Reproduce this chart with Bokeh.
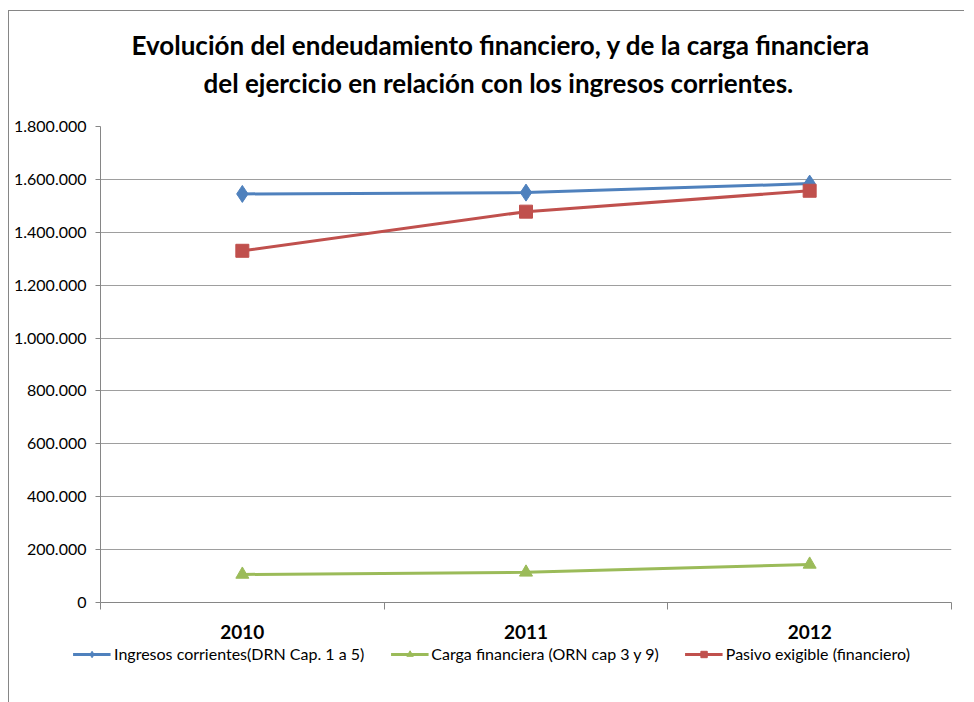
from bokeh.plotting import figure
from bokeh.layouts import column
from bokeh.models import (Range1d, FixedTicker, SingleIntervalTicker, CustomJSTickFormatter,
                          LinearAxis, Title, Legend, LegendItem, ColumnDataSource)
from bokeh.embed import file_html
from bokeh.resources import INLINE
import numpy as np

years = ["2010", "2011", "2012"]
ingresos = [1545000, 1550000, 1584000]
carga = [106000, 114000, 144000]
pasivo = [1330000, 1478000, 1557000]

title1 = "Evolución del endeudamiento financiero, y de la carga financiera"
title2 = "del ejercicio en relación con los ingresos corrientes."
names = ["Ingresos corrientes(DRN Cap. 1 a 5)", "Carga financiera (ORN cap 3 y 9)",
         "Pasivo exigible (financiero)"]

FONT = "Lato"
BLUE, GREEN, RED = "#4F81BD", "#9BBB59", "#C0504D"
GRAY = "#868686"

xpos = list(np.arange(len(years)) + 0.5)
src = ColumnDataSource(dict(x=xpos, ing=ingresos, car=carga, pas=pasivo))

p = figure(output_backend="svg", toolbar_location=None,
           x_range=Range1d(0, len(years)), y_range=Range1d(0, 1800000),
           frame_width=850, frame_height=475,
           x_axis_location=None, y_axis_location=None,
           min_border_left=91, min_border_right=14, min_border_top=115, min_border_bottom=43)
p.outline_line_color = None
p.background_fill_color = "white"
p.border_fill_color = "white"
p.margin = (10, 0, 0, 8)
p.styles = {"border-left": "1px solid #868686", "border-top": "1px solid #868686"}

# y axis
yax = LinearAxis(ticker=SingleIntervalTicker(interval=200000))
yax.formatter = CustomJSTickFormatter(code="""
    return Math.round(tick).toString().replace(/\\B(?=(\\d{3})+(?!\\d))/g, ".");
""")
yax.axis_line_color = GRAY
yax.major_tick_line_color = GRAY
yax.major_tick_out = 5
yax.major_tick_in = 0
yax.minor_tick_line_color = None
yax.major_label_text_font = FONT
yax.major_label_text_font_size = "16px"
yax.major_label_text_color = "#000000"
yax.major_label_standoff = 9
p.add_layout(yax, "left")

# x axis
xax = LinearAxis(ticker=FixedTicker(ticks=xpos, minor_ticks=list(range(len(years) + 1))))
xax.major_label_overrides = {float(x): y for x, y in zip(xpos, years)}
xax.axis_line_color = GRAY
xax.major_tick_line_color = None
xax.minor_tick_line_color = GRAY
xax.minor_tick_out = 7
xax.minor_tick_in = 0
xax.major_label_text_font = FONT
xax.major_label_text_font_style = "bold"
xax.major_label_text_font_size = "19px"
xax.major_label_text_color = "#000000"
xax.major_label_standoff = 15
p.add_layout(xax, "below")

p.ygrid.grid_line_color = GRAY
p.ygrid.grid_line_alpha = 0.8
p.ygrid.ticker = SingleIntervalTicker(interval=200000)
p.xgrid.grid_line_color = None

p.line("x", "ing", source=src, line_color=BLUE, line_width=3)
p.scatter("x", "ing", source=src, marker="diamond", size=17, fill_color=BLUE, line_color=BLUE)
p.line("x", "car", source=src, line_color=GREEN, line_width=3)
p.scatter("x", "car", source=src, marker="triangle", size=13, fill_color=GREEN, line_color=GREEN)
p.line("x", "pas", source=src, line_color=RED, line_width=3)
p.scatter("x", "pas", source=src, marker="square", size=13, fill_color=RED, line_color=RED)

spacer = Title(text=" ", text_font_size="1px", standoff=23)
t2 = Title(text=title2, align="left", text_font=FONT, text_font_size="26px",
           text_color="#000000", text_font_style="bold", offset=103, standoff=4)
t1 = Title(text=title1, align="left", text_font=FONT, text_font_size="26px",
           text_color="#000000", text_font_style="bold", offset=31, standoff=4)
p.add_layout(spacer, "above")
p.add_layout(t2, "above")
p.add_layout(t1, "above")

# legend strip (same series, ranges chosen so only the legend shows)
lg = figure(output_backend="svg", toolbar_location=None,
            x_range=Range1d(0, len(years)), y_range=Range1d(-2, -1),
            frame_width=947, frame_height=59,
            x_axis_location=None, y_axis_location=None,
            min_border_left=18, min_border_right=0, min_border_top=0, min_border_bottom=0)
lg.outline_line_color = None
lg.xgrid.grid_line_color = None
lg.ygrid.grid_line_color = None
lg.border_fill_color = "white"
lg.margin = (0, 0, 0, 8)
lg.styles = {"border-left": "1px solid #868686"}

r1 = [lg.line("x", "ing", source=src, line_color=BLUE, line_width=3),
      lg.scatter("x", "ing", source=src, marker="diamond", size=11, fill_color=BLUE, line_color=BLUE)]
r2 = [lg.line("x", "car", source=src, line_color=GREEN, line_width=3),
      lg.scatter("x", "car", source=src, marker="triangle", size=9, fill_color=GREEN, line_color=GREEN)]
r3 = [lg.line("x", "pas", source=src, line_color=RED, line_width=3),
      lg.scatter("x", "pas", source=src, marker="square", size=9, fill_color=RED, line_color=RED)]

legend = Legend(items=[LegendItem(label=names[0], renderers=r1),
                       LegendItem(label=names[1], renderers=r2),
                       LegendItem(label=names[2], renderers=r3)],
                orientation="horizontal", location="top_center",
                label_text_font=FONT, label_text_font_size="16px", label_text_color="#000000",
                glyph_width=38, glyph_height=16, spacing=26, label_standoff=3, padding=0,
                border_line_color=None, background_fill_alpha=0, margin=0)
lg.add_layout(legend, "center")

layout = column(p, lg, spacing=0)
open("out.html", "w").write(file_html(layout, INLINE))
